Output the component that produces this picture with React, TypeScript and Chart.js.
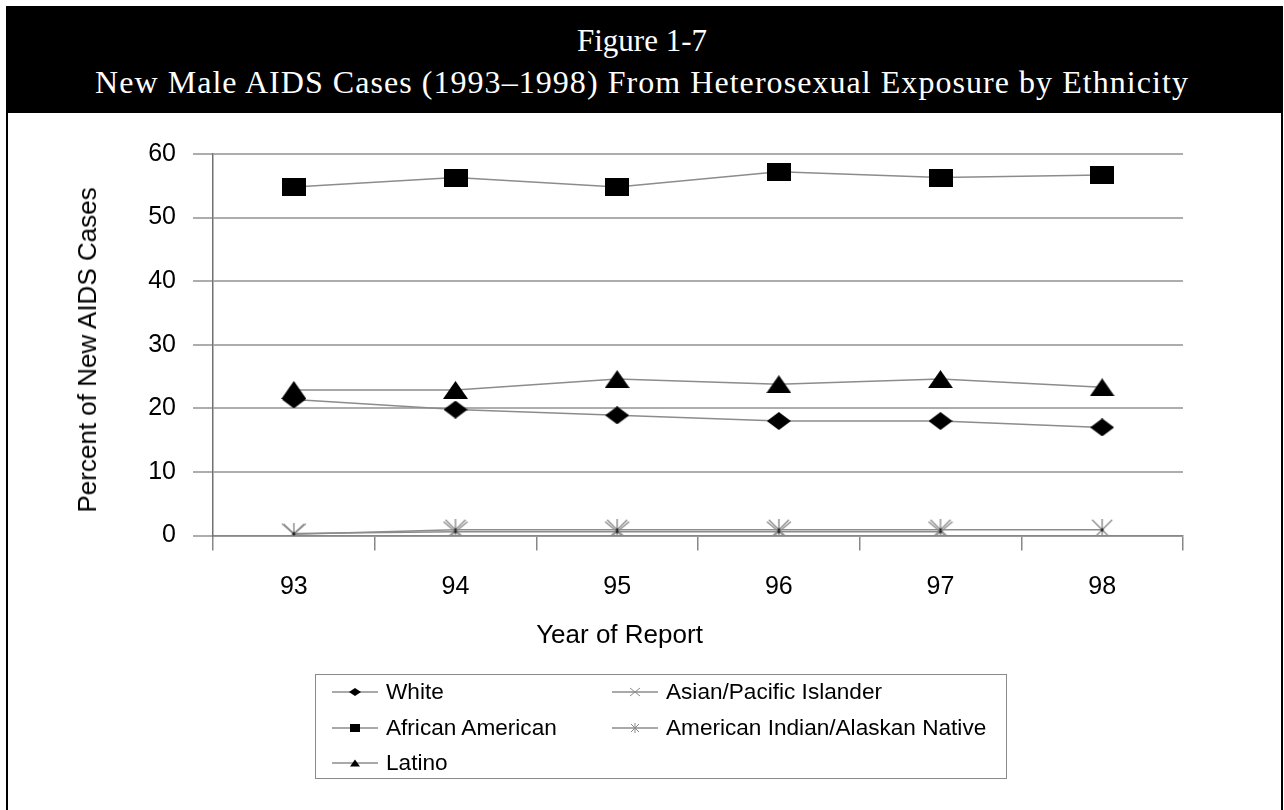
import React, { useEffect, useRef } from 'react';
import { Chart, registerables } from 'chart.js';

Chart.register(...registerables);

const years = ['93', '94', '95', '96', '97', '98'];
const white = [21.4, 19.8, 18.9, 18.0, 18.0, 17.0];
const africanAmerican = [54.8, 56.3, 54.8, 57.2, 56.3, 56.7];
const latino = [22.9, 22.9, 24.6, 23.8, 24.6, 23.3];
const asianPacific = [0.3, 0.6, 0.6, 0.6, 0.6, null];
const americanIndian = [0.2, 0.9, 0.9, 0.9, 0.9, 0.9];
const yMin = 0;
const yMax = 60;
const yStep = 10;

const titleLine1 = 'Figure 1-7';
const titleLine2 = 'New Male AIDS Cases (1993–1998) From Heterosexual Exposure by Ethnicity';
const yTitle = 'Percent of New AIDS Cases';
const xTitle = 'Year of Report';

type MarkerKind = 'rect' | 'diamond' | 'triangle' | 'x' | 'star';

function makeMarker(kind: MarkerKind, w: number, h: number, color: string): HTMLCanvasElement {
  const c = document.createElement('canvas');
  c.width = w;
  c.height = h;
  const ctx = c.getContext('2d')!;
  ctx.fillStyle = color;
  ctx.strokeStyle = color;
  ctx.beginPath();
  if (kind === 'rect') {
    ctx.rect(0, 0, w, h);
    ctx.fill();
  } else if (kind === 'diamond') {
    ctx.moveTo(w / 2, 0);
    ctx.lineTo(w, h / 2);
    ctx.lineTo(w / 2, h);
    ctx.lineTo(0, h / 2);
    ctx.closePath();
    ctx.fill();
  } else if (kind === 'triangle') {
    ctx.moveTo(w / 2, 0);
    ctx.lineTo(w, h);
    ctx.lineTo(0, h);
    ctx.closePath();
    ctx.fill();
  } else {
    ctx.lineWidth = 1.4;
    ctx.moveTo(1, 1);
    ctx.lineTo(w - 1, h - 1);
    ctx.moveTo(w - 1, 1);
    ctx.lineTo(1, h - 1);
    if (kind === 'star') {
      ctx.moveTo(w / 2, 0);
      ctx.lineTo(w / 2, h);
    }
    ctx.stroke();
    ctx.beginPath();
    ctx.fillStyle = '#222';
    ctx.arc(w / 2, h / 2, 1.5, 0, Math.PI * 2);
    ctx.fill();
  }
  return c;
}

const LINE_GRAY = '#8c8c8c';
const MARK_GRAY = '#8a8a8a';

function LegendSymbol({ kind }: { kind: MarkerKind }) {
  let marker: React.ReactNode = null;
  if (kind === 'diamond') marker = <polygon points="23,1 29,5 23,9 17,5" fill="#000" />;
  if (kind === 'rect') marker = <rect x="18" y="1" width="10" height="8" fill="#000" />;
  if (kind === 'triangle') marker = <polygon points="23,1.5 28,8.5 18,8.5" fill="#000" />;
  if (kind === 'x')
    marker = (
      <path d="M18,1 L28,9 M28,1 L18,9" stroke={MARK_GRAY} strokeWidth="1" fill="none" />
    );
  if (kind === 'star')
    marker = (
      <path d="M19,1 L27,9 M27,1 L19,9 M23,0 L23,10" stroke={MARK_GRAY} strokeWidth="1" fill="none" />
    );
  return (
    <svg width="46" height="10" style={{ position: 'absolute', left: 0, top: -5, overflow: 'visible' }}>
      <line x1="0" y1="5" x2="46" y2="5" stroke={LINE_GRAY} strokeWidth="1.5" />
      {marker}
    </svg>
  );
}

const legendItems: { label: string; kind: MarkerKind; x: number; y: number }[] = [
  { label: 'White', kind: 'diamond', x: 332, y: 692 },
  { label: 'African American', kind: 'rect', x: 332, y: 728 },
  { label: 'Latino', kind: 'triangle', x: 332, y: 763 },
  { label: 'Asian/Pacific Islander', kind: 'x', x: 612, y: 692 },
  { label: 'American Indian/Alaskan Native', kind: 'star', x: 612, y: 728 },
];

export default function App() {
  const canvasRef = useRef<HTMLCanvasElement | null>(null);

  useEffect(() => {
    const canvas = canvasRef.current;
    if (!canvas) return;
    const mRect = makeMarker('rect', 24, 18, '#000');
    const mDiamond = makeMarker('diamond', 24, 18, '#000');
    const mTri = makeMarker('triangle', 25, 18, '#000');
    const mX = makeMarker('x', 26, 22, MARK_GRAY);
    const mStar = makeMarker('star', 22, 22, MARK_GRAY);

    const base = {
      borderColor: LINE_GRAY,
      borderWidth: 1.5,
      tension: 0,
      fill: false,
      pointRadius: 10,
    };

    const chart = new Chart(canvas, {
      type: 'line',
      data: {
        labels: years,
        datasets: [
          { ...base, label: 'African American', data: africanAmerican, pointStyle: mRect as any },
          { ...base, label: 'Latino', data: latino, pointStyle: mTri as any },
          { ...base, label: 'White', data: white, pointStyle: mDiamond as any },
          { ...base, label: 'Asian/Pacific Islander', data: asianPacific as any, pointStyle: mX as any },
          { ...base, label: 'American Indian/Alaskan Native', data: americanIndian, pointStyle: mStar as any },
        ],
      },
      options: {
        animation: false,
        responsive: false,
        maintainAspectRatio: false,
        devicePixelRatio: 1,
        layout: { padding: { left: 0, top: 154, right: 101, bottom: 810 - 535.5 - 60 } },
        plugins: { legend: { display: false }, tooltip: { enabled: false }, title: { display: false } },
        scales: {
          x: {
            type: 'category',
            offset: true,
            afterFit: (s: any) => {
              s.height = 60;
            },
            grid: {
              offset: true,
              drawOnChartArea: false,
              drawTicks: true,
              tickLength: 15,
              color: '#888',
              lineWidth: 1.5,
            },
            border: { display: true, color: '#888', width: 1.5 },
            ticks: {
              color: '#000',
              padding: 22,
              font: { family: '"Liberation Sans", Arial, sans-serif', size: 25 },
            },
          },
          y: {
            min: yMin,
            max: yMax,
            afterFit: (s: any) => {
              s.width = 213;
            },
            grid: { color: '#adadad', lineWidth: 2, drawTicks: true, tickLength: 20 },
            border: { display: true, color: '#707070', width: 1.5 },
            ticks: {
              stepSize: yStep,
              color: '#000',
              padding: 17,
              font: { family: '"Liberation Sans", Arial, sans-serif', size: 25 },
            },
          },
        },
      },
    });
    return () => chart.destroy();
  }, []);

  const sans = '"Liberation Sans", Arial, sans-serif';
  const serif = '"Liberation Serif", "Times New Roman", serif';

  return (
    <div
      style={{
        position: 'absolute',
        left: 0,
        top: 0,
        width: 1284,
        height: 810,
        overflow: 'hidden',
        background: '#fff',
      }}
    >
      {/* frame */}
      <div
        style={{
          position: 'absolute',
          left: 6,
          top: 6,
          width: 1277,
          height: 830,
          boxSizing: 'border-box',
          borderLeft: '2px solid #000',
          borderRight: '2px solid #000',
        }}
      />
      {/* header */}
      <div
        style={{
          position: 'absolute',
          left: 6,
          top: 6,
          width: 1276,
          height: 107,
          background: '#000',
        }}
      />
      <div
        style={{
          position: 'absolute',
          left: 0,
          width: 1284,
          top: 25,
          textAlign: 'center',
          color: '#fff',
          fontFamily: serif,
          fontSize: 31,
          lineHeight: '31px',
          whiteSpace: 'nowrap',
        }}
      >
        {titleLine1}
      </div>
      <div
        style={{
          position: 'absolute',
          left: 0,
          width: 1284,
          top: 66,
          textAlign: 'center',
          color: '#fff',
          fontFamily: serif,
          fontSize: 32,
          lineHeight: '32px',
          letterSpacing: '1.05px',
          whiteSpace: 'nowrap',
        }}
      >
        {titleLine2}
      </div>

      <canvas
        ref={canvasRef}
        width={1284}
        height={810}
        style={{ position: 'absolute', left: 0, top: 0, width: 1284, height: 810 }}
      />

      {/* axis titles */}
      <div
        style={{
          position: 'absolute',
          left: 86.5,
          top: 350,
          transform: 'translate(-50%, -50%) rotate(-90deg)',
          fontFamily: sans,
          fontSize: 26,
          lineHeight: '26px',
          whiteSpace: 'nowrap',
          color: '#000',
        }}
      >
        {yTitle}
      </div>
      <div
        style={{
          position: 'absolute',
          left: 619.5,
          top: 621,
          transform: 'translateX(-50%)',
          fontFamily: sans,
          fontSize: 26,
          lineHeight: '26px',
          whiteSpace: 'nowrap',
          color: '#000',
        }}
      >
        {xTitle}
      </div>

      {/* legend */}
      <div
        style={{
          position: 'absolute',
          left: 315,
          top: 674,
          width: 692,
          height: 105,
          boxSizing: 'border-box',
          border: '1.5px solid #8a8a8a',
        }}
      />
      {legendItems.map((it) => (
        <div key={it.label} style={{ position: 'absolute', left: it.x, top: it.y, height: 0 }}>
          <LegendSymbol kind={it.kind} />
          <div
            style={{
              position: 'absolute',
              left: 54,
              top: 8.3 - 0.8465 * 22.6,
              fontFamily: sans,
              fontSize: 22.6,
              lineHeight: '22.6px',
              whiteSpace: 'nowrap',
              color: '#000',
            }}
          >
            {it.label}
          </div>
        </div>
      ))}
    </div>
  );
}
